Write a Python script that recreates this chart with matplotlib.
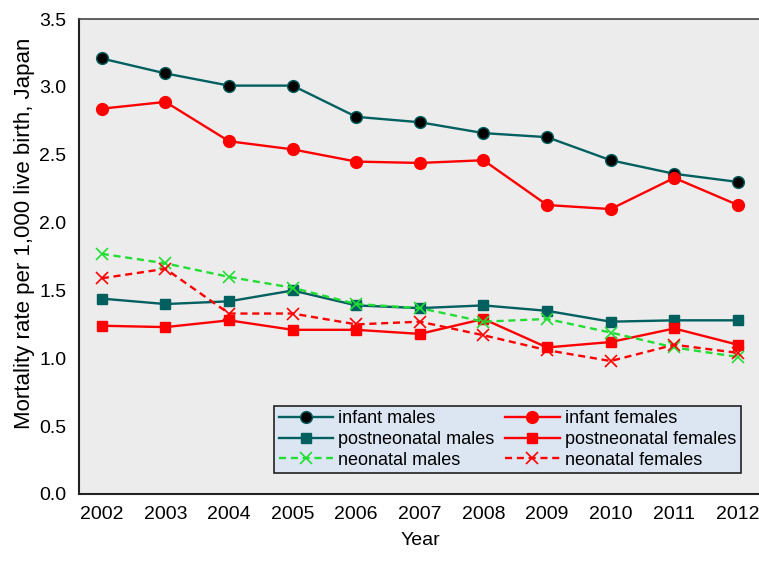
import matplotlib.pyplot as plt

years = [2002, 2003, 2004, 2005, 2006, 2007, 2008, 2009, 2010, 2011, 2012]

infant_m = [3.21, 3.10, 3.01, 3.01, 2.78, 2.74, 2.66, 2.63, 2.46, 2.36, 2.30]
infant_f = [2.84, 2.89, 2.60, 2.54, 2.45, 2.44, 2.46, 2.13, 2.10, 2.33, 2.13]
postneo_m = [1.44, 1.40, 1.42, 1.50, 1.39, 1.37, 1.39, 1.35, 1.27, 1.28, 1.28]
postneo_f = [1.24, 1.23, 1.28, 1.21, 1.21, 1.18, 1.29, 1.08, 1.12, 1.22, 1.10]
neo_m = [1.77, 1.70, 1.60, 1.52, 1.40, 1.37, 1.27, 1.29, 1.19, 1.08, 1.01]
neo_f = [1.59, 1.66, 1.33, 1.33, 1.25, 1.27, 1.17, 1.06, 0.98, 1.10, 1.04]

plt.rcParams['font.family'] = ['Liberation Sans', 'DejaVu Sans']

teal = '#006060'
red = '#ff0000'
green = '#22dd33'

fig = plt.figure(figsize=(7.59, 5.63), dpi=100)
ax = fig.add_axes([0.104, 0.1226, 0.9, 0.8434])
ax.set_facecolor('#ececec')

h_im, = ax.plot(years, infant_m, color=teal, lw=1.7, marker='o', ms=8.5, mfc='black', mec=teal, label='infant males')
h_if, = ax.plot(years, infant_f, color=red, lw=1.7, marker='o', ms=8.5, mfc=red, mec=red, label='infant females')
h_pm, = ax.plot(years, postneo_m, color=teal, lw=1.7, marker='s', ms=7.5, mfc=teal, mec=teal, label='postneonatal males')
h_pf, = ax.plot(years, postneo_f, color=red, lw=1.7, marker='s', ms=7.5, mfc=red, mec=red, label='postneonatal females')
h_nm, = ax.plot(years, neo_m, color=green, lw=1.7, ls=(0, (3, 2)), marker='x', ms=9, mew=1.2, label='neonatal males')
h_nf, = ax.plot(years, neo_f, color=red, lw=1.7, ls=(0, (3, 2)), marker='x', ms=9, mew=1.2, label='neonatal females')

ax.set_xlim(2001.64, 2012.38)
ax.set_ylim(0, 3.5)
ax.set_xticks(years)
ax.set_yticks([0, 0.5, 1.0, 1.5, 2.0, 2.5, 3.0, 3.5])
ax.set_yticklabels(['0.0', '0.5', '1.0', '1.5', '2.0', '2.5', '3.0', '3.5'])
ax.tick_params(length=0, labelsize=14, pad=9)
ax.set_xlabel('Year', fontsize=14, labelpad=6)
ax.set_ylabel('Mortality rate per 1,000 live birth, Japan', fontsize=16)
ax.yaxis.set_label_coords(-0.064, 0.55)
for s in ['left', 'bottom']:
    ax.spines[s].set_color('#222222')
    ax.spines[s].set_linewidth(1.5)
ax.spines['top'].set_color('#444444')
ax.spines['top'].set_linewidth(1.2)
ax.spines['right'].set_visible(False)

handles = [h_im, h_pm, h_nm, h_if, h_pf, h_nf]
leg = ax.legend(handles=handles, labels=[h.get_label() for h in handles], ncol=2,
                loc='lower right', bbox_to_anchor=(0.982, 0.025), fontsize=13,
                frameon=True, fancybox=False, facecolor='#dce6f2', edgecolor='#222222',
                handlelength=3.0, columnspacing=0.6, labelspacing=0.2, borderpad=0.25,
                handletextpad=0.3)
leg.get_frame().set_linewidth(1.2)
leg.get_frame().set_alpha(1)

fig.savefig('out.png', dpi=100)
